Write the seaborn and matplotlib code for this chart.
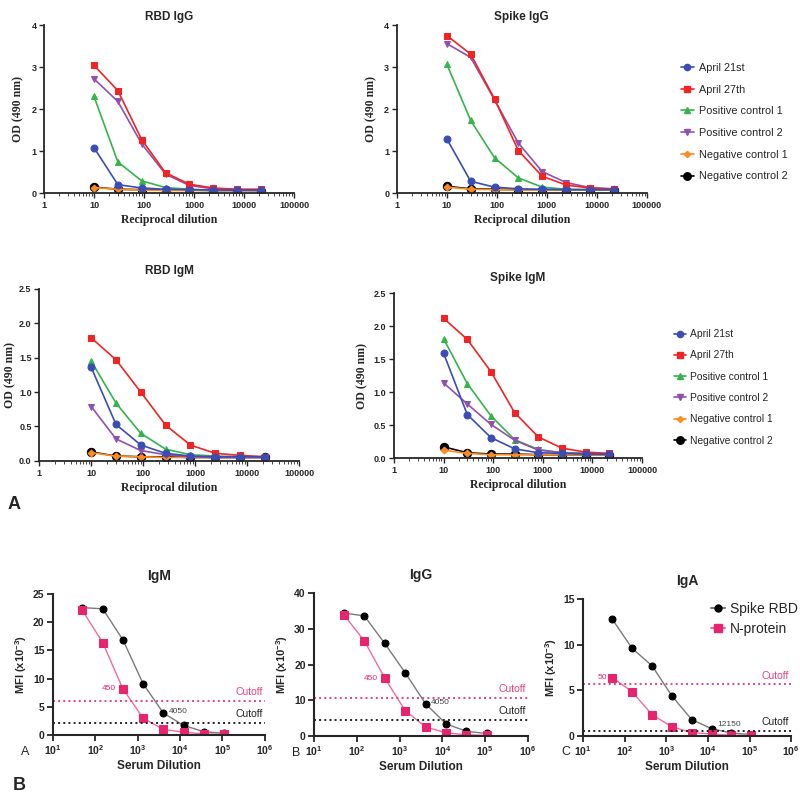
import matplotlib
matplotlib.use("Agg")
import matplotlib.pyplot as plt
from matplotlib.lines import Line2D
from matplotlib.ticker import FixedLocator, LogLocator, NullFormatter
import seaborn as sns

# dilution series
elisa_dil = [10, 30, 90, 270, 810, 2430, 7290, 21870]
mfi_dil = [50, 150, 450, 1350, 4050, 12150, 36450, 109350]

series = ['April 21st', 'April 27th', 'Positive control 1', 'Positive control 2',
          'Negative control 1', 'Negative control 2']

# OD (490 nm) readings, panel A
rbd_igg = {
    'April 21st':         [1.08, 0.20, 0.12, 0.09, 0.08, 0.07, 0.07, 0.07],
    'April 27th':         [3.04, 2.44, 1.27, 0.48, 0.21, 0.12, 0.09, 0.09],
    'Positive control 1': [2.30, 0.74, 0.29, 0.13, 0.09, 0.07, 0.07, 0.07],
    'Positive control 2': [2.72, 2.18, 1.17, 0.45, 0.18, 0.10, 0.08, 0.08],
    'Negative control 1': [0.13, 0.09, 0.07, 0.06, 0.06, 0.06, 0.06, 0.06],
    'Negative control 2': [0.14, 0.09, 0.08, 0.07, 0.07, 0.06, 0.06, 0.06],
}
spike_igg = {
    'April 21st':         [1.29, 0.28, 0.14, 0.10, 0.09, 0.08, 0.08, 0.08],
    'April 27th':         [3.75, 3.31, 2.24, 1.01, 0.40, 0.19, 0.12, 0.09],
    'Positive control 1': [3.07, 1.73, 0.84, 0.36, 0.14, 0.09, 0.08, 0.08],
    'Positive control 2': [3.56, 3.23, 2.22, 1.19, 0.51, 0.25, 0.13, 0.10],
    'Negative control 1': [0.14, 0.09, 0.08, 0.07, 0.07, 0.07, 0.07, 0.07],
    'Negative control 2': [0.16, 0.10, 0.09, 0.08, 0.07, 0.07, 0.07, 0.07],
}
rbd_igm = {
    'April 21st':         [1.36, 0.53, 0.23, 0.11, 0.07, 0.06, 0.06, 0.06],
    'April 27th':         [1.79, 1.47, 1.00, 0.52, 0.23, 0.11, 0.08, 0.06],
    'Positive control 1': [1.45, 0.84, 0.40, 0.17, 0.09, 0.07, 0.06, 0.06],
    'Positive control 2': [0.79, 0.32, 0.15, 0.09, 0.06, 0.05, 0.05, 0.05],
    'Negative control 1': [0.12, 0.07, 0.06, 0.05, 0.05, 0.05, 0.05, 0.05],
    'Negative control 2': [0.13, 0.07, 0.06, 0.06, 0.05, 0.05, 0.05, 0.05],
}
spike_igm = {
    'April 21st':         [1.59, 0.66, 0.31, 0.14, 0.08, 0.07, 0.06, 0.06],
    'April 27th':         [2.12, 1.80, 1.31, 0.69, 0.32, 0.15, 0.09, 0.07],
    'Positive control 1': [1.81, 1.13, 0.64, 0.28, 0.13, 0.08, 0.07, 0.06],
    'Positive control 2': [1.14, 0.82, 0.51, 0.27, 0.12, 0.08, 0.07, 0.06],
    'Negative control 1': [0.12, 0.07, 0.05, 0.05, 0.05, 0.05, 0.05, 0.05],
    'Negative control 2': [0.17, 0.08, 0.06, 0.06, 0.05, 0.05, 0.05, 0.05],
}

# MFI (x10^-3) readings, panel B
igm_rbd = [22.6, 22.4, 16.9, 9.1, 3.9, 1.7, 0.6, 0.3]
igm_n = [22.1, 16.4, 8.2, 3.0, 1.0, 0.5, 0.2, 0.1]
igg_rbd = [34.4, 33.6, 25.9, 17.7, 9.0, 3.4, 1.3, 0.7]
igg_n = [33.9, 26.6, 16.2, 7.1, 2.5, 0.9, 0.3, 0.2]
iga_rbd = [12.8, 9.6, 7.7, 4.4, 1.8, 0.8, 0.33, 0.15]
iga_n = [6.4, 4.85, 2.35, 1.0, 0.37, 0.22, 0.07, 0.07]
cutoff_n = [6.1, 10.7, 5.7]
cutoff_rbd = [2.2, 4.5, 0.6]

sns.set_style("ticks")
plt.rcParams['font.family'] = ['Liberation Sans', 'DejaVu Sans']
plt.rcParams['mathtext.fontset'] = 'custom'
plt.rcParams['mathtext.rm'] = 'Liberation Sans'
plt.rcParams['mathtext.bf'] = 'Liberation Sans:bold'

colors = {'April 21st': '#3a4db5', 'April 27th': '#f02424', 'Positive control 1': '#34b44a',
          'Positive control 2': '#9150b0', 'Negative control 1': '#ff8a1e',
          'Negative control 2': '#000000'}
markers = {'April 21st': 'o', 'April 27th': 's', 'Positive control 1': '^',
           'Positive control 2': 'v', 'Negative control 1': 'D', 'Negative control 2': 'o'}
msize = {'April 21st': 5, 'April 27th': 5, 'Positive control 1': 5,
         'Positive control 2': 5, 'Negative control 1': 3.5, 'Negative control 2': 6}
draw_order = ['Negative control 2', 'Negative control 1', 'Positive control 1',
              'Positive control 2', 'April 27th', 'April 21st']

fig = plt.figure(figsize=(8, 7.96), dpi=100)


def elisa_panel(rect, data, title, ymax, yticks, fmt, pad, ylpad):
    ax = fig.add_axes(rect)
    for name in draw_order:
        sns.lineplot(x=elisa_dil, y=data[name], ax=ax, color=colors[name],
                     marker=markers[name], markersize=msize[name],
                     markeredgecolor=colors[name], linewidth=1.2, legend=False)
    ax.set_xscale('log')
    ax.set_xlim(1, 1e5)
    ax.set_ylim(0, ymax)
    ax.xaxis.set_major_locator(FixedLocator([1, 10, 100, 1000, 10000, 100000]))
    ax.set_xticklabels(['1', '10', '100', '1000', '10000', '100000'])
    ax.xaxis.set_minor_locator(LogLocator(base=10, subs=range(2, 10), numticks=20))
    ax.xaxis.set_minor_formatter(NullFormatter())
    ax.set_yticks(yticks)
    ax.set_yticklabels([fmt.format(v) for v in yticks])
    ax.tick_params(which='major', direction='out', length=3.5, width=1, labelsize=6.5, pad=2)
    ax.tick_params(which='minor', direction='out', length=2, width=0.6)
    for lab in ax.get_xticklabels() + ax.get_yticklabels():
        lab.set_fontweight('bold')
    sns.despine(ax=ax)
    for s in ['left', 'bottom']:
        ax.spines[s].set_linewidth(1.3)
    ax.set_title(title, fontsize=8.5, fontweight='bold', pad=pad)
    ax.set_xlabel('Reciprocal dilution', family='Liberation Serif', fontweight='bold',
                  fontsize=8.5, labelpad=3)
    ax.set_ylabel('OD (490 nm)', family='Liberation Serif', fontweight='bold',
                  fontsize=8.5, labelpad=ylpad)
    return ax


elisa_panel([0.055, 0.7575, 0.3125, 0.211], rbd_igg, 'RBD IgG', 4, [0, 1, 2, 3, 4],
            '{:.0f}', 4, 5)
elisa_panel([0.496, 0.7575, 0.3125, 0.211], spike_igg, 'Spike IgG', 4, [0, 1, 2, 3, 4],
            '{:.0f}', 4, 5)
elisa_panel([0.049, 0.421, 0.325, 0.216], rbd_igm, 'RBD IgM', 2.5,
            [0, 0.5, 1.0, 1.5, 2.0, 2.5], '{:.1f}', 11, 2)
elisa_panel([0.4925, 0.4246, 0.31, 0.207], spike_igm, 'Spike IgM', 2.5,
            [0, 0.5, 1.0, 1.5, 2.0, 2.5], '{:.1f}', 9, 4)

handles = [Line2D([0], [0], color=colors[n], marker=markers[n], markersize=msize[n] * 0.9,
                  linewidth=1.2) for n in series]
fig.legend(handles, series, loc='upper left', bbox_to_anchor=(0.851, 0.921), frameon=False,
           fontsize=7.8, handlelength=1.2, handletextpad=0.5, labelspacing=1.08,
           borderpad=0, borderaxespad=0)
fig.legend(handles, series, loc='upper left', bbox_to_anchor=(0.843, 0.5865), frameon=False,
           fontsize=7.4, handlelength=1.1, handletextpad=0.45, labelspacing=1.1,
           borderpad=0, borderaxespad=0)

fig.text(0.018, 0.366, 'A', fontsize=13, fontweight='bold', va='center', ha='center')

pink = '#e8246e'
pink_line = '#f06b9c'
grey_line = '#7a7a7a'


def mfi_panel(rect, rbd, nprot, cut_n, cut_rbd, title, ymax, yticks, letter, letter_x):
    ax = fig.add_axes(rect)
    sns.lineplot(x=mfi_dil, y=rbd, ax=ax, color=grey_line, linewidth=1.0, marker='o',
                 markersize=5, markerfacecolor='black', markeredgecolor='black',
                 legend=False, label='Spike RBD')
    sns.lineplot(x=mfi_dil, y=nprot, ax=ax, color=pink_line, linewidth=1.0, marker='s',
                 markersize=5.5, markerfacecolor=pink, markeredgecolor=pink,
                 legend=False, label='N-protein')
    ax.axhline(cut_n, color='#e8417f', linestyle=':', linewidth=1.4)
    ax.axhline(cut_rbd, color='#222222', linestyle=':', linewidth=1.4)
    ax.text(0.99, cut_n + ymax * 0.025, 'Cutoff', color='#e8417f', fontsize=7.5,
            ha='right', va='bottom', transform=ax.get_yaxis_transform())
    ax.text(0.99, cut_rbd + ymax * 0.025, 'Cutoff', color='#222222', fontsize=7.5,
            ha='right', va='bottom', transform=ax.get_yaxis_transform())
    ax.set_xscale('log')
    ax.set_xlim(10, 1e6)
    ax.set_ylim(0, ymax)
    ax.xaxis.set_major_locator(FixedLocator([1e1, 1e2, 1e3, 1e4, 1e5, 1e6]))
    ax.xaxis.set_minor_locator(FixedLocator([]))
    ax.set_xticklabels([r'$\mathbf{10^{%d}}$' % k for k in range(1, 7)])
    ax.set_yticks(yticks)
    ax.set_yticklabels([str(v) for v in yticks])
    ax.tick_params(direction='out', length=4, width=1.3, labelsize=7.5, pad=2)
    for lab in ax.get_yticklabels():
        lab.set_fontweight('bold')
    sns.despine(ax=ax)
    for s in ['left', 'bottom']:
        ax.spines[s].set_linewidth(1.5)
    ax.set_title(title, fontsize=10, fontweight='bold', pad=10)
    ax.set_xlabel('Serum Dilution', fontsize=8.5, fontweight='bold', labelpad=2)
    ax.set_ylabel(r'MFI (x10$^{\mathbf{-3}}$)', fontsize=8, fontweight='bold', labelpad=3)
    ax.text(letter_x, -0.12, letter, fontsize=9, transform=ax.transAxes,
            ha='center', va='center')
    return ax


ax_m = mfi_panel([0.066, 0.0766, 0.265, 0.177], igm_rbd, igm_n, cutoff_n[0], cutoff_rbd[0],
                 'IgM', 25, [0, 5, 10, 15, 20, 25], 'A', -0.13)
ax_g = mfi_panel([0.3925, 0.0754, 0.2675, 0.1796], igg_rbd, igg_n, cutoff_n[1], cutoff_rbd[1],
                 'IgG', 40, [0, 10, 20, 30, 40], 'B', -0.085)
ax_a = mfi_panel([0.729, 0.0754, 0.26, 0.172], iga_rbd, iga_n, cutoff_n[2], cutoff_rbd[2],
                 'IgA', 15, [0, 5, 10, 15], 'C', -0.085)

for ax in [ax_m, ax_g]:
    ax.annotate('450', xy=(mfi_dil[2], ax.lines[1].get_ydata()[2]), xytext=(-5, 0),
                textcoords='offset points', color=pink, fontsize=6, ha='right', va='center')
    ax.annotate('4050', xy=(mfi_dil[4], ax.lines[0].get_ydata()[4]), xytext=(4, 1),
                textcoords='offset points', color='#444444', fontsize=6, ha='left', va='center')
ax_a.annotate('50', xy=(mfi_dil[0], iga_n[0]), xytext=(-4, 0), textcoords='offset points',
              color=pink, fontsize=6, ha='right', va='center')
ax_a.annotate('12150', xy=(mfi_dil[5], iga_rbd[5]), xytext=(4, 3), textcoords='offset points',
              color='#444444', fontsize=6, ha='left', va='center')

ax_a.legend(handles=[Line2D([0], [0], color=grey_line, marker='o', markersize=5,
                            markerfacecolor='black', markeredgecolor='black'),
                     Line2D([0], [0], color=pink_line, marker='s', markersize=5.5,
                            markerfacecolor=pink, markeredgecolor=pink)],
            labels=['Spike RBD', 'N-protein'], loc='upper left',
            bbox_to_anchor=(0.889, 0.2437), bbox_transform=fig.transFigure, frameon=False,
            fontsize=10, handlelength=1.0, handletextpad=0.35, labelspacing=0.4,
            borderpad=0, borderaxespad=0)

fig.text(0.024, 0.013, 'B', fontsize=13, fontweight='bold', va='center', ha='center')

fig.savefig('out.png', dpi=100)
